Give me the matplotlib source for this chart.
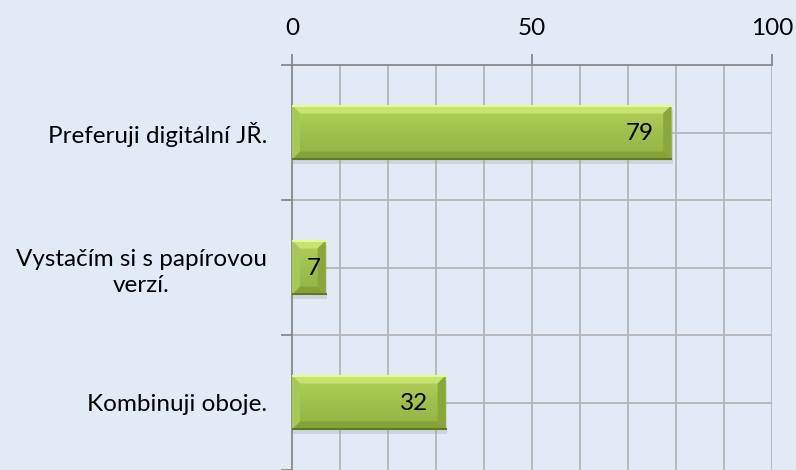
import numpy as np
import matplotlib.pyplot as plt
from matplotlib.patches import Rectangle, Polygon
from matplotlib.colors import LinearSegmentedColormap

categories = ["Preferuji digitální JŘ.", "Vystačím si s papírovou\nverzí.", "Kombinuji oboje."]
values = [79, 7, 32]
xticks = [0, 50, 100]

bg = "#e2eaf6"
plt.rcParams['font.family'] = ['Lato', 'DejaVu Sans']
fs = 17.5

fig = plt.figure(figsize=(7.96, 4.70), dpi=100, facecolor=bg)
ax = fig.add_axes([292 / 796, 0, 480 / 796, 405 / 470])
ax.set_facecolor(bg)

cat_px = 136.0
ax.set_xlim(0, 100)
ax.set_ylim(405 / cat_px, 0)

# grid
for gx in range(10, 101, 10):
    ax.axvline(gx, color="#b5b5b5", lw=1.3, zorder=1)
for gy in [0.5, 1, 1.5, 2, 2.5]:
    ax.axhline(gy, color="#b5b5b5", lw=1.3, zorder=1)

for s in ["right", "bottom"]:
    ax.spines[s].set_visible(False)
ax.spines["top"].set_color("#888888")
ax.spines["left"].set_color("#888888")
ax.spines["top"].set_linewidth(1.3)
ax.spines["left"].set_linewidth(1.3)

ax.xaxis.tick_top()
ax.set_xticks(xticks)
ax.set_xticklabels([str(t) for t in xticks], fontsize=fs)
ax.tick_params(axis="x", length=8, width=1.3, color="#888888", pad=11)

centers = np.arange(len(categories)) + 0.5
ax.set_yticks(centers)
ax.set_yticklabels(categories, fontsize=fs, ha="right", multialignment="center",
                   linespacing=1.35)
ax.set_yticks([0, 1, 2, 3], minor=True)
ax.tick_params(axis="y", which="major", length=0, pad=18)
ax.tick_params(axis="y", which="minor", length=8, width=1.3, color="#888888")

h = 0.4
bx = 8 / 4.8      # bevel in x units
by = 8 / cat_px   # bevel in y units
grad = np.linspace(0, 1, 64).reshape(-1, 1)
face_cmap = LinearSegmentedColormap.from_list("face", ["#b3d35c", "#9fc04c", "#93b444"])

for c, v in zip(centers, values):
    y0, y1 = c - h / 2, c + h / 2
    # shadow
    ax.add_patch(Rectangle((0.3, y0 + 0.035), v, h, color="#9aa3b0", alpha=0.3, lw=0, zorder=2))
    # face gradient
    im = ax.imshow(grad, cmap=face_cmap, aspect="auto", extent=(0, v, y1, y0), zorder=3)
    im.set_clip_path(Rectangle((0, y0), v, h, transform=ax.transData))
    # bevels
    ax.add_patch(Polygon([(0, y0), (v, y0), (v - bx, y0 + by), (bx, y0 + by)],
                         color="#c6e56e", lw=0, zorder=4))
    ax.add_patch(Polygon([(0, y1), (v, y1), (v - bx, y1 - by), (bx, y1 - by)],
                         color="#84a235", lw=0, zorder=4))
    ax.add_patch(Polygon([(0, y0), (bx, y0 + by), (bx, y1 - by), (0, y1)],
                         color="#a8c855", lw=0, zorder=4))
    ax.add_patch(Polygon([(v, y0), (v - bx, y0 + by), (v - bx, y1 - by), (v, y1)],
                         color="#8aa83a", lw=0, zorder=4))
    ax.plot([0, v], [y0 + 0.006, y0 + 0.006], color="#e4fb95", lw=1.5, zorder=5)
    ax.plot([0, v], [y1 - 0.006, y1 - 0.006], color="#5f7a22", lw=1.5, zorder=5)
    off = 3.6 if v > 15 else 1.0
    ax.text(v - off, c + 0.01, str(v), ha="right", va="center", fontsize=fs,
            color="black", zorder=6)

fig.savefig("out.png", dpi=100, facecolor=bg)
plt.close(fig)
